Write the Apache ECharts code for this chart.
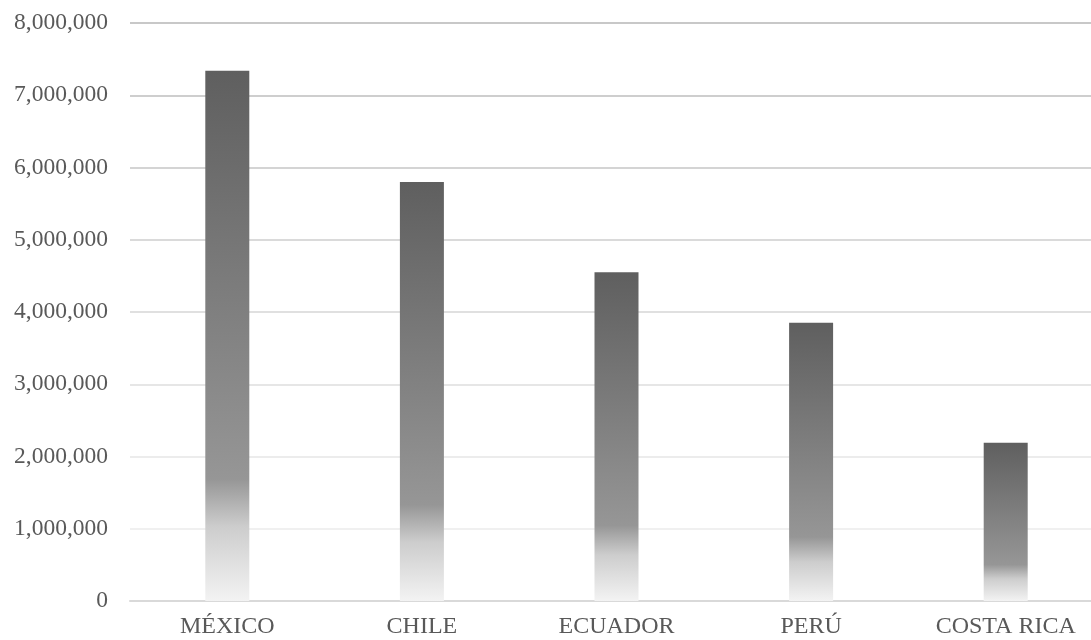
<!DOCTYPE html>
<html>
<head>
<meta charset="utf-8">
<script src="https://cdn.jsdelivr.net/npm/echarts@6/dist/echarts.min.js"></script>
<style>html,body{margin:0;padding:0;background:#fff;overflow:hidden;width:1091px;height:640px}#c{width:1110px;height:640px}</style>
</head>
<body>
<div id="c"></div>
<script>
var categories = ['MÉXICO', 'CHILE', 'ECUADOR', 'PERÚ', 'COSTA RICA'];
var values = [7340000, 5800000, 4550000, 3850000, 2190000];

var chart = echarts.init(document.getElementById('c'));
var grad = new echarts.graphic.LinearGradient(0, 0, 0, 1, [
  {offset: 0, color: '#5f5f5f'},
  {offset: 0.77, color: '#969696'},
  {offset: 0.86, color: '#cdcdcd'},
  {offset: 1, color: '#f3f3f3'}
]);
chart.setOption({
  animation: false,
  grid: {left: 130, top: 23, right: 7, bottom: 39, containLabel: false},
  xAxis: {
    type: 'category',
    data: categories,
    axisLine: {lineStyle: {color: '#d9d9d9', width: 2}},
    axisTick: {show: false},
    axisLabel: {color: '#595959', fontFamily: 'Liberation Serif', fontSize: 24, margin: 14}
  },
  yAxis: {
    type: 'value',
    min: 0, max: 8000000, interval: 1000000,
    axisLine: {show: false},
    axisTick: {show: false},
    axisLabel: {
      color: '#595959', fontFamily: 'Liberation Serif', fontSize: 23.5, margin: 22,
      formatter: function (v) { return v.toLocaleString('en-US'); }
    },
    splitLine: {lineStyle: {width: 2, color: ['#d9d9d9', '#f0f0f0', '#ececec', '#e6e6e6', '#e0e0e0', '#dadada', '#d4d4d4', '#cecece', '#c8c8c8']}}
  },
  series: [{
    type: 'bar',
    data: values,
    barWidth: 44,
    itemStyle: {color: grad}
  }]
});
</script>
</body>
</html>
